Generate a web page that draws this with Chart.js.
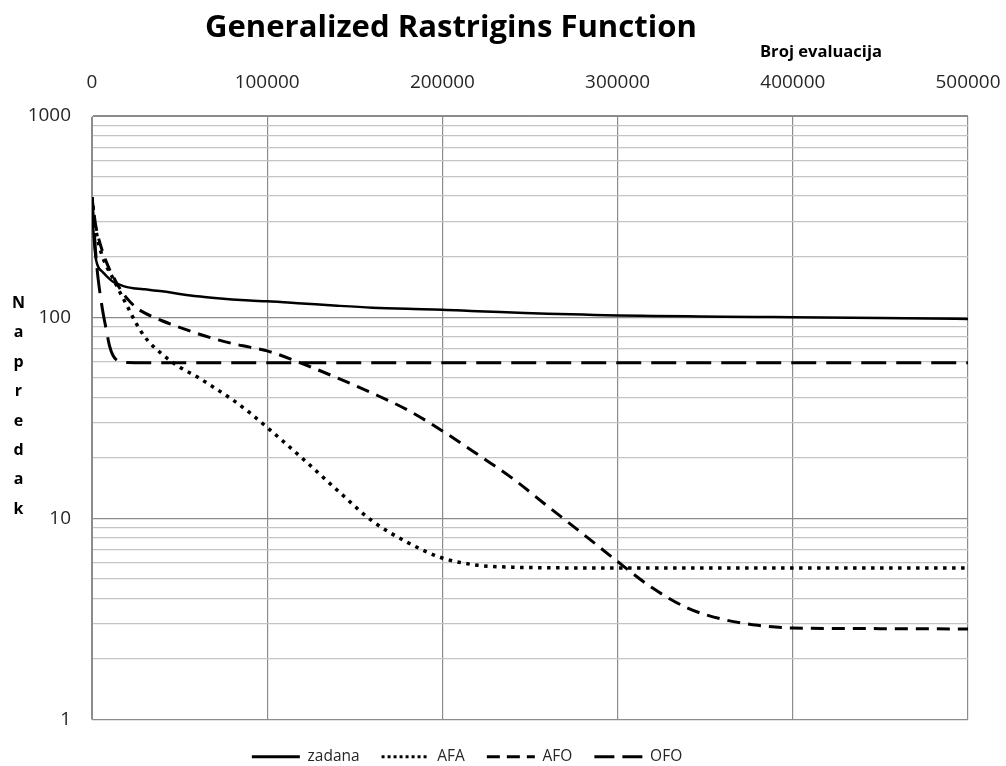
<!DOCTYPE html>
<html><head><meta charset="utf-8">
<script src="https://cdn.jsdelivr.net/npm/chart.js@4.4.1/dist/chart.umd.min.js"></script>
<style>
html,body{margin:0;padding:0;background:#fff;overflow:hidden;width:1006px;height:766px;}
#wrap{position:absolute;left:-34px;top:0;width:1040px;height:800px;}
</style></head><body>
<div id="wrap"><canvas id="c" width="1040" height="800"></canvas></div>
<script>
// ---- data ----
const evaluations = [0, 1000, 2000, 3000, 4000, 6000, 8000, 10000, 12000, 15000, 20000, 25000, 30000, 40000, 50000, 60000, 70000, 80000, 90000, 100000, 120000, 140000, 160000, 180000, 200000, 220000, 240000, 260000, 280000, 300000, 320000, 340000, 360000, 380000, 400000, 450000, 500000];
const zadana = [395, 250, 200, 183, 175, 168, 161, 155, 150, 146, 141, 139, 137.5, 134.5, 130.5, 127, 124.5, 122.5, 121, 120, 117, 114, 111.5, 110, 109, 107, 105.5, 104, 103, 102, 101.5, 101, 100.5, 100.2, 100, 99, 98];
const afa = [395, 330, 280, 250, 228, 200, 181, 168, 156, 138, 114, 94, 80, 65.5, 56.5, 50.5, 44.5, 39, 33.5, 28.3, 19.9, 13.8, 9.7, 7.6, 6.35, 5.85, 5.72, 5.68, 5.67, 5.67, 5.67, 5.67, 5.67, 5.67, 5.67, 5.67, 5.67];
const afo = [395, 335, 290, 262, 242, 212, 190, 173, 160, 143, 124, 112, 105, 96, 89, 83, 78, 74, 71, 68, 58.8, 49.9, 41.9, 34.6, 27.2, 20.8, 15.8, 11.5, 8.4, 6.1, 4.5, 3.58, 3.15, 2.94, 2.85, 2.83, 2.82];
const ofo = [390, 290, 215, 170, 143, 109, 88, 72, 64.5, 60.5, 59.5, 59.4, 59.4, 59.4, 59.4, 59.4, 59.4, 59.4, 59.4, 59.4, 59.4, 59.4, 59.4, 59.4, 59.4, 59.4, 59.4, 59.4, 59.4, 59.4, 59.4, 59.4, 59.4, 59.4, 59.4, 59.4, 59.4];
const seriesNames = ['zadana', 'AFA', 'AFO', 'OFO'];
const xMin = 0, xMax = 500000, xTickStep = 100000;
const yMin = 1, yMax = 1000;
const yTickLabels = [1, 10, 100, 1000];
const chartTitle = 'Generalized Rastrigins Function';
const xTitle = 'Broj evaluacija';
const yTitle = 'Napredak';

// ---- styling ----
const FAMILY = '"Open Sans", "Noto Sans", sans-serif';
const SHIFT = 34; // canvas is shifted 34px left of the page
const MAJOR = '#8c8c8c', MINOR = '#c4c4c4';

function fitSize(text, weight, target) {
  const c = document.createElement('canvas').getContext('2d');
  c.font = weight + ' 100px ' + FAMILY;
  return 100 * target / c.measureText(text).width;
}
const tickSize = fitSize('100000', 'normal', 65);
const legendSize = fitSize('zadana', 'normal', 52);
const titleSize = fitSize(chartTitle, 'bold', 492);
const xTitleSize = fitSize(xTitle, 'bold', 122);

// y grid: every 1..9 of each decade
const yGrid = [];
for (let d = yMin; d < yMax; d *= 10) for (let m = 1; m < 10; m++) yGrid.push(d * m);
yGrid.push(yMax);
const isPow10 = v => Math.abs(Math.log10(v) - Math.round(Math.log10(v))) < 1e-9;

function pts(arr) { return evaluations.map((x, i) => ({x: x, y: arr[i]})); }

const styles = [
  {borderWidth: 2.5, borderDash: []},
  {borderWidth: 3.5, borderDash: [3.5, 5.5]},
  {borderWidth: 3, borderDash: [13, 8]},
  {borderWidth: 3, borderDash: [25, 10]}
];
const legendDash = [[], [3, 3], [13, 7], [20, 8]];
const seriesData = [zadana, afa, afo, ofo];

const textPlugin = {
  id: 'texts',
  afterDraw(chart) {
    const ctx = chart.ctx;
    ctx.save();
    ctx.fillStyle = '#000';
    ctx.textAlign = 'left';
    ctx.textBaseline = 'alphabetic';
    ctx.font = 'bold ' + titleSize + 'px ' + FAMILY;
    ctx.fillText(chartTitle, 205 + SHIFT, 37);
    ctx.font = 'bold ' + xTitleSize + 'px ' + FAMILY;
    ctx.fillText(xTitle, 760 + SHIFT, 57);
    ctx.font = 'bold 16px ' + FAMILY;
    ctx.textAlign = 'center';
    const letters = Array.from(yTitle);
    letters.forEach((ch, i) => ctx.fillText(ch, 18.5 + SHIFT, 308 + i * 29.4));
    ctx.restore();
  }
};

new Chart(document.getElementById('c'), {
  type: 'line',
  data: {
    datasets: seriesNames.map((name, i) => ({
      label: name,
      data: pts(seriesData[i]),
      borderColor: '#000',
      backgroundColor: '#000',
      borderWidth: styles[i].borderWidth,
      borderDash: styles[i].borderDash,
      pointRadius: 0,
      fill: false,
      cubicInterpolationMode: 'monotone'
    }))
  },
  options: {
    responsive: false,
    animation: false,
    devicePixelRatio: 1,
    layout: {padding: {left: 0, right: 38, top: 0, bottom: 25.5}},
    scales: {
      x: {
        type: 'linear', position: 'top', min: xMin, max: xMax,
        grid: {color: MAJOR, drawTicks: false, lineWidth: 1.2},
        border: {color: MAJOR},
        ticks: {
          stepSize: xTickStep, color: '#262626', maxRotation: 0, autoSkip: false,
          padding: 33 - tickSize * 0.6,
          font: {family: FAMILY, size: tickSize},
          callback: v => String(v)
        },
        afterFit: s => { s.height = 116; s.paddingLeft = 0; s.paddingRight = 0; }
      },
      y: {
        type: 'logarithmic', min: yMin, max: yMax,
        grid: {
          drawTicks: false, lineWidth: 1.2,
          color: c => (c.tick && isPow10(c.tick.value)) ? MAJOR : MINOR
        },
        border: {color: MAJOR},
        ticks: {
          color: '#262626', padding: 21, autoSkip: false,
          font: {family: FAMILY, size: tickSize},
          callback: v => yTickLabels.includes(v) ? String(v) : ''
        },
        afterBuildTicks: s => { s.ticks = yGrid.map(v => ({value: v})); },
        afterFit: s => { s.width = 126; s.paddingTop = 0; s.paddingBottom = 0; }
      }
    },
    plugins: {
      title: {display: false},
      tooltip: {enabled: false},
      legend: {
        position: 'bottom',
        title: {display: true, text: '', font: {size: 7.5, lineHeight: 1}, padding: 0},
        labels: {
          usePointStyle: true, pointStyle: 'line', pointStyleWidth: 48,
          padding: 22, color: '#262626',
          font: {family: FAMILY, size: legendSize},
          generateLabels: chart => Chart.defaults.plugins.legend.labels.generateLabels(chart).map((item, i) => {
            item.lineDash = legendDash[i];
            item.lineWidth = 3;
            item.strokeStyle = '#000';
            return item;
          })
        }
      }
    }
  },
  plugins: [textPlugin]
});
</script>
</body></html>
